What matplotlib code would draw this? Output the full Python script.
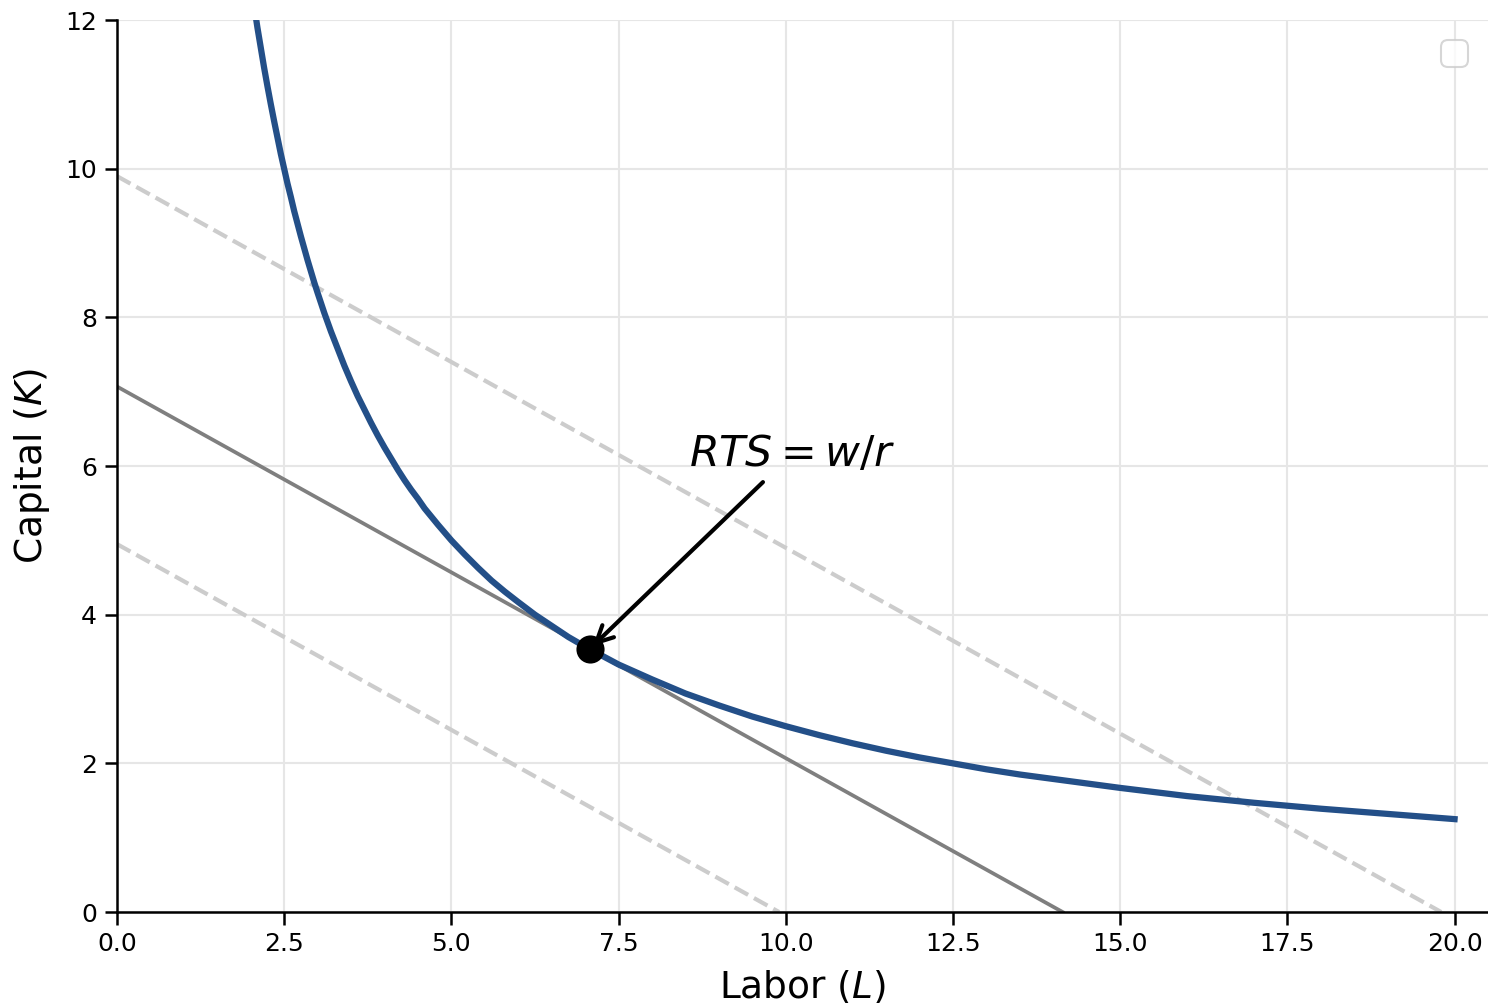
import numpy as np
import matplotlib
matplotlib.use("Agg")
import matplotlib.pyplot as plt

# isoquant points (L, K)
iso_L = [1.9, 1.95, 2.0, 2.05, 2.1, 2.15, 2.2, 2.25, 2.3, 2.35, 2.4, 2.45, 2.5, 2.55, 2.6,
         2.65, 2.7, 2.75, 2.8, 2.85, 2.9, 2.95, 3.0, 3.1, 3.2, 3.3, 3.4, 3.5, 3.6, 3.7, 3.8,
         3.9, 4.0, 4.1, 4.2, 4.3, 4.4, 4.5, 4.6, 4.8, 5.0, 5.2, 5.4, 5.6, 5.8, 6.0, 6.25,
         6.5, 6.75, 7.0, 7.25, 7.5, 7.75, 8.0, 8.5, 9.0, 9.5, 10.0, 10.5, 11.0, 11.5, 12.0,
         12.5, 13.0, 13.5, 14.0, 15.0, 16.0, 17.0, 18.0, 19.0, 20.0]
iso_K = [13.16, 12.82, 12.5, 12.2, 11.9, 11.63, 11.36, 11.11, 10.87, 10.64, 10.42, 10.2,
         10.0, 9.8, 9.62, 9.43, 9.26, 9.09, 8.93, 8.77, 8.62, 8.47, 8.33, 8.06, 7.81, 7.58,
         7.35, 7.14, 6.94, 6.76, 6.58, 6.41, 6.25, 6.1, 5.95, 5.81, 5.68, 5.56, 5.43, 5.21,
         5.0, 4.81, 4.63, 4.46, 4.31, 4.17, 4.0, 3.85, 3.7, 3.57, 3.45, 3.33, 3.23, 3.13,
         2.94, 2.78, 2.63, 2.5, 2.38, 2.27, 2.17, 2.08, 2.0, 1.92, 1.85, 1.79, 1.67, 1.56,
         1.47, 1.39, 1.32, 1.25]

# isocost lines: (L intercept, K intercept)
cost_L = [14.14]
cost_K = [7.07]
dash_L = [9.9, 19.8]
dash_K = [4.95, 9.9]

opt_L = 7.07
opt_K = 3.54

fig = plt.figure(figsize=(1488/150, 1003/150), dpi=150)
ax = fig.add_axes([0.0786, 0.0907, 0.9214, 0.8893])

for a, b in zip(dash_L, dash_K):
    ax.plot([0, a], [b, 0], color='#cccccc', lw=2, ls='--')
for a, b in zip(cost_L, cost_K):
    ax.plot([0, a], [b, 0], color='#7f7f7f', lw=1.8)

ax.plot(iso_L, iso_K, color='#234f88', lw=3)
ax.plot([opt_L], [opt_K], 'o', color='black', ms=12.5, zorder=5)

ax.annotate(r'$RTS = w/r$', xy=(opt_L, opt_K), xytext=(8.55, 6.0), fontsize=20.5,
            arrowprops=dict(arrowstyle='->', color='black', lw=2, mutation_scale=20))

ax.set_xlim(0, 20.5)
ax.set_ylim(0, 12)
ax.set_xticks(np.arange(0, 20.1, 2.5))
ax.set_yticks(range(0, 13, 2))
ax.tick_params(labelsize=12, width=1.2, length=6)
ax.set_xlabel(r'Labor ($L$)', fontsize=18, labelpad=6)
ax.set_ylabel(r'Capital ($K$)', fontsize=18, labelpad=6.5)
ax.grid(True, color='#e6e6e6', lw=1)
ax.set_axisbelow(True)
for s in ['top', 'right']:
    ax.spines[s].set_visible(False)
for s in ['left', 'bottom']:
    ax.spines[s].set_linewidth(1.2)
ax.legend(handles=[], loc='upper right', fontsize=16, borderaxespad=0.6)

fig.savefig('out.png', dpi=150)
